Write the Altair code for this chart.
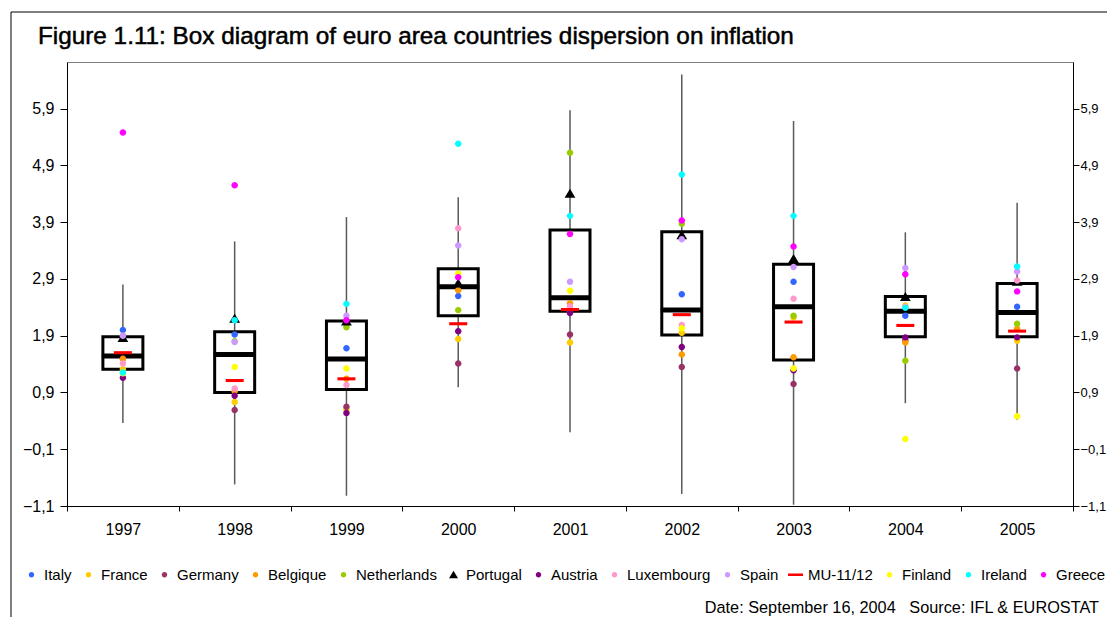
import altair as alt
import pandas as pd

years = ["1997", "1998", "1999", "2000", "2001", "2002", "2003", "2004", "2005"]

countries = ["Italy", "France", "Germany", "Belgique", "Netherlands", "Portugal",
             "Austria", "Luxembourg", "Spain", "MU-11/12", "Finland", "Ireland", "Greece"]
colors = ["#3366FF", "#FFCC00", "#993366", "#FF9900", "#99CC00", "#000000",
          "#800080", "#FF99CC", "#CC99FF", "#FF0000", "#FFFF00", "#00FFFF", "#FF00FF"]

italy = [2.00, 1.92, 1.68, 2.60, 2.33, 2.63, 2.85, 2.25, 2.41]
france = [1.31, 0.73, 0.60, 1.84, 1.78, 1.95, 2.22, 2.43, 1.81]
germany = [1.50, 0.59, 0.65, 1.41, 1.92, 1.35, 1.05, 1.82, 1.32]
belgique = [1.49, 0.92, 1.14, 2.70, 2.47, 1.57, 1.52, 1.78, 2.02]
netherlands = [1.90, 1.80, 2.05, 2.35, 5.12, 3.87, 2.25, 1.46, 2.11]
portugal = [1.86, 2.20, 2.15, 2.82, 4.40, 3.67, 3.25, 2.58, 2.85]
austria = [1.16, 0.84, 0.54, 1.98, 2.30, 1.70, 1.29, 1.87, 1.87]
luxembourg = [1.41, 0.97, 1.03, 3.79, 2.42, 2.09, 2.55, 2.41, 2.87]
spain = [1.90, 1.79, 2.25, 3.49, 2.85, 3.60, 3.11, 3.09, 3.03]
mu_11_12 = [1.60, 1.11, 1.14, 2.11, 2.36, 2.27, 2.14, 2.08, 1.98]
finland = [1.24, 1.35, 1.32, 2.99, 2.69, 2.03, 1.32, 0.08, 0.48]
ireland = [1.25, 2.17, 2.46, 5.28, 4.01, 4.74, 4.01, 2.39, 3.12]
greece = [5.48, 4.55, 2.17, 2.93, 3.69, 3.93, 3.47, 2.98, 2.68]

box_q1 = [1.31, 0.90, 0.95, 2.25, 2.33, 1.91, 1.47, 1.88, 1.88]
box_median = [1.54, 1.57, 1.49, 2.76, 2.57, 2.35, 2.41, 2.33, 2.31]
box_q3 = [1.88, 1.97, 2.16, 3.08, 3.76, 3.73, 3.16, 2.59, 2.82]
whisker_low = [0.36, -0.72, -0.92, 0.99, 0.20, -0.89, -1.08, 0.71, 0.42]
whisker_high = [2.80, 3.56, 3.99, 4.34, 5.87, 6.50, 5.68, 3.72, 4.24]

y_ticks = [-1.1, -0.1, 0.9, 1.9, 2.9, 3.9, 4.9, 5.9]

title_text = "Figure 1.11: Box diagram of euro area countries dispersion on inflation"
footer_text = "Date: September 16, 2004\u00a0\u00a0 Source: IFL & EUROSTAT"

series = [italy, france, germany, belgique, netherlands, portugal, austria,
          luxembourg, spain, mu_11_12, finland, ireland, greece]

rows = []
for name, vals in zip(countries, series):
    for yr, v in zip(years, vals):
        rows.append({"year": yr, "country": name, "value": v})
points_df = pd.DataFrame(rows)

box_df = pd.DataFrame({
    "year": years, "q1": box_q1, "median": box_median, "q3": box_q3,
    "low": whisker_low, "high": whisker_high,
})

FONT = "Liberation Sans"
W, H = 1006, 444

# symbol paths drawn in a [-1, 1] unit box (scaled by the symbol size)
dot = "M0.36,0A0.36,0.36,0,1,1,-0.36,0A0.36,0.36,0,1,1,0.36,0Z"
tri = "M0,-0.55L0.6,0.45L-0.6,0.45Z"
dash = "M-1,-0.17L1,-0.17L1,0.17L-1,0.17Z"
shapes = [dash if c == "MU-11/12" else (tri if c == "Portugal" else dot) for c in countries]

yscale = alt.Scale(domain=[-1.1, 6.72], nice=False, zero=False)
label_expr = "replace(format(datum.value, '.1f'), '.', ',')"

x_axis = alt.Axis(title=None, labelFont=FONT, labelFontSize=16, labelColor="black",
                  tickBand="extent", tickSize=5, tickColor="black", domainColor="black",
                  labelPadding=10, labelAngle=0, grid=False)
y_left = alt.Axis(title=None, orient="left", values=y_ticks, labelExpr=label_expr,
                  labelFont=FONT, labelFontSize=16, labelColor="black", tickSize=7,
                  tickColor="black", domainColor="black", labelPadding=6, grid=False)
y_right = alt.Axis(title=None, orient="right", values=y_ticks, labelExpr=label_expr,
                   labelFont=FONT, labelFontSize=13, labelColor="black", tickSize=6,
                   tickColor="black", domainColor="black", labelPadding=1, grid=False)

X = alt.X("year:N", sort=years, scale=alt.Scale(paddingInner=0, paddingOuter=0), axis=x_axis)

whiskers = alt.Chart(box_df).mark_rule(color="#5a5a5a", strokeWidth=1.5).encode(
    x=X, y=alt.Y("low:Q", scale=yscale, axis=y_left), y2="high:Q")

boxes = alt.Chart(box_df).mark_bar(size=40, fill="white", stroke="black", strokeWidth=3).encode(
    x=X, y=alt.Y("q1:Q", scale=yscale, axis=y_right), y2="q3:Q")

medians = alt.Chart(box_df).mark_tick(size=42, thickness=5, color="black", opacity=1).encode(
    x=X, y=alt.Y("median:Q", scale=yscale, axis=None))

legend = alt.Legend(title=None, orient="none", legendX=-43, legendY=505, direction="horizontal",
                    columns=13, labelFont=FONT, labelFontSize=15, labelColor="black",
                    labelOffset=5, columnPadding=9.0, symbolStrokeWidth=0, padding=0,
                    symbolSize=225)

pts = alt.Chart(points_df).mark_point(filled=True, opacity=1, strokeWidth=0, size=324).encode(
    x=X,
    y=alt.Y("value:Q", scale=yscale, axis=None),
    color=alt.Color("country:N", sort=countries, scale=alt.Scale(domain=countries, range=colors), legend=legend),
    shape=alt.Shape("country:N", sort=countries, scale=alt.Scale(domain=countries, range=shapes), legend=legend),
)

title = alt.Chart(pd.DataFrame({"t": [title_text]})).mark_text(
    font=FONT, fontSize=24.3, align="left", baseline="alphabetic", color="black",
    stroke="black", strokeWidth=0.5).encode(
    x=alt.value(-29), y=alt.value(-18), text="t:N")

footer = alt.Chart(pd.DataFrame({"t": [footer_text]})).mark_text(
    font=FONT, fontSize=16.3, align="right", baseline="alphabetic", color="black").encode(
    x=alt.value(1032), y=alt.value(551), text="t:N")

frame = alt.Chart(pd.DataFrame({"a": [0]})).mark_rect(
    fill="transparent", stroke="black", strokeWidth=1).encode(
    x=alt.value(-56), x2=alt.value(1300), y=alt.value(-50), y2=alt.value(800))

chart = alt.layer(frame, whiskers, boxes, medians, pts, title, footer).resolve_axis(
    y="independent").properties(
    width=W, height=H,
    autosize=alt.AutoSizeParams(type="none"),
    padding={"left": 59, "top": 54, "right": 34, "bottom": 111},
).configure_view(stroke="#808080", strokeWidth=1)

chart.save("out.html", embed_options={"renderer": "svg", "actions": False})
